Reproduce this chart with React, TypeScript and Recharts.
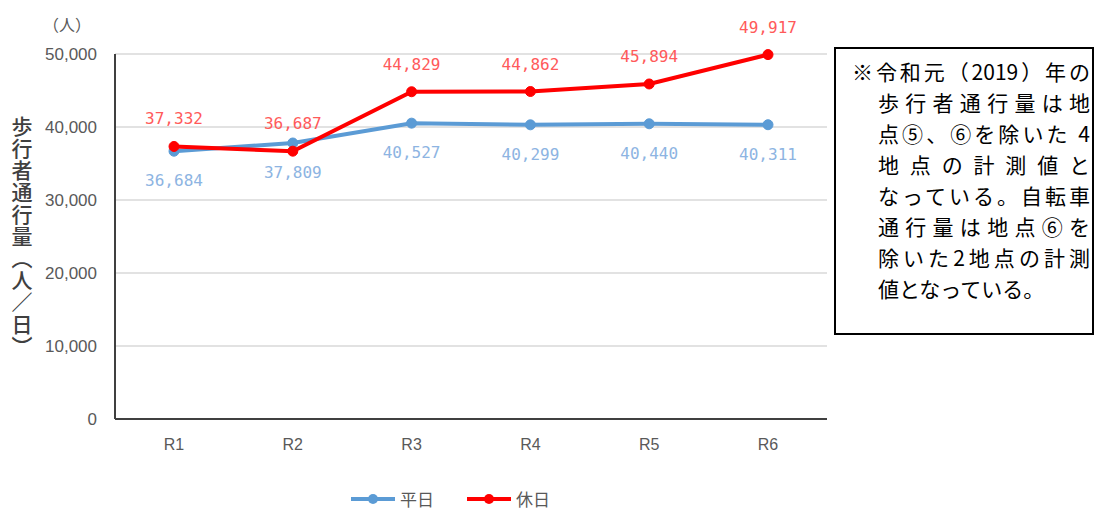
import { LineChart, Line, XAxis, YAxis, CartesianGrid, LabelList, Legend } from "recharts"

const years = ["R1", "R2", "R3", "R4", "R5", "R6"]
const weekday = [36684, 37809, 40527, 40299, 40440, 40311]
const holiday = [37332, 36687, 44829, 44862, 45894, 49917]
const yTicks = [0, 10000, 20000, 30000, 40000, 50000]

const data = years.map((label, i) => ({ label, weekday: weekday[i], holiday: holiday[i] }))

const BLUE = "#5b9bd5"
const RED = "#ff0000"
const LABEL_FONT = "'DejaVu Sans Mono', monospace"

const noteLines = [
  { text: "※令和元（2019）年の", indent: false, justify: true },
  { text: "歩行者通行量は地", indent: true, justify: true },
  { text: "点⑤、⑥を除いた 4", indent: true, justify: true },
  { text: "地点の計測値と", indent: true, justify: true },
  { text: "なっている。自転車", indent: true, justify: true },
  { text: "通行量は地点⑥を", indent: true, justify: true },
  { text: "除いた2地点の計測", indent: true, justify: true },
  { text: "値となっている。", indent: true, justify: false },
]

function makeLabel(color: string, dy: number) {
  return (props: any) => {
    const { x, y, value } = props
    return (
      <text x={x} y={y + dy} textAnchor="middle" fill={color} fontSize={16} fontFamily={LABEL_FONT}>
        {Number(value).toLocaleString("en-US")}
      </text>
    )
  }
}

function LegendContent() {
  const item = (color: string, name: string, gap: number) => (
    <div style={{ display: "flex", alignItems: "center", marginRight: gap }}>
      <svg width={46} height={14}>
        <line x1={1} y1={7} x2={45} y2={7} stroke={color} strokeWidth={4} />
        <circle cx={23} cy={7} r={5} fill={color} />
      </svg>
      <span style={{ marginLeft: 4, fontSize: 17, lineHeight: "20px", color: "#595959", fontFamily: "'Noto Sans CJK JP'" }}>{name}</span>
    </div>
  )
  return (
    <div style={{ display: "flex", justifyContent: "flex-start", alignItems: "center", height: 20, paddingLeft: 350 }}>
      {item(BLUE, "平日", 32)}
      {item(RED, "休日", 0)}
    </div>
  )
}

export default function App() {
  return (
    <div style={{ position: "absolute", left: 0, top: 0, width: 1095, height: 509, background: "#fff", fontFamily: "'Noto Sans CJK JP', sans-serif" }}>
      <LineChart
        width={1095}
        height={509}
        data={data}
        margin={{ top: 54, right: 268, bottom: 40, left: 0 }}
      >
        <CartesianGrid vertical={false} stroke="#d9d9d9" strokeWidth={1.5} />
        <XAxis
          dataKey="label"
          height={30}
          padding={{ left: 59, right: 59 }}
          tickLine={false}
          axisLine={{ stroke: "#404040", strokeWidth: 2 }}
          tickSize={0}
          tickMargin={20}
          tick={{ fill: "#595959", fontSize: 16, fontFamily: "'Liberation Sans', sans-serif" }}
        />
        <YAxis
          width={115}
          domain={[0, 50000]}
          ticks={yTicks}
          tickFormatter={(v: number) => v.toLocaleString("en-US")}
          tickLine={false}
          axisLine={{ stroke: "#404040", strokeWidth: 2 }}
          tickSize={0}
          tickMargin={18}
          tick={{ fill: "#595959", fontSize: 17, fontFamily: "'Liberation Sans', sans-serif" }}
        />
        <Legend
          verticalAlign="bottom"
          content={<LegendContent />}
          wrapperStyle={{ top: 489, bottom: "auto", left: 0, width: 1095, height: 20 }}
        />
        <Line
          dataKey="weekday"
          name="平日"
          stroke={BLUE}
          strokeWidth={4}
          dot={{ r: 5, fill: BLUE, stroke: BLUE, strokeWidth: 1 }}
          isAnimationActive={false}
        >
          <LabelList dataKey="weekday" content={makeLabel("#8db4e2", 35)} />
        </Line>
        <Line
          dataKey="holiday"
          name="休日"
          stroke={RED}
          strokeWidth={4}
          dot={{ r: 5, fill: RED, stroke: RED, strokeWidth: 1 }}
          isAnimationActive={false}
        >
          <LabelList dataKey="holiday" content={makeLabel("#ff5a5a", -22)} />
        </Line>
      </LineChart>

      <div style={{ position: "absolute", left: 43, top: 12, fontSize: 16, color: "#595959" }}>（人）</div>

      <div
        style={{
          position: "absolute",
          left: 11,
          top: 116,
          height: 232,
          writingMode: "vertical-rl",
          fontSize: 21,
          lineHeight: "22px",
          letterSpacing: 1,
          color: "#404040",
          fontWeight: 500,
        }}
      >
        歩行者通行量（人／日）
      </div>

      <div
        style={{
          position: "absolute",
          left: 834,
          top: 47,
          width: 256,
          height: 277,
          border: "2px solid #000",
          background: "#fff",
          paddingTop: 7,
          boxSizing: "content-box",
          fontFamily: "'Noto Sans CJK JP', serif",
          fontSize: 21,
          color: "#000",
        }}
      >
        {noteLines.map((l) => (
          <div
            key={l.text}
            style={{
              height: 31,
              lineHeight: "31px",
              marginLeft: l.indent ? 42 : 16,
              marginRight: 2,
              textAlign: "justify",
              textAlignLast: l.justify ? "justify" : "left",
              whiteSpace: "nowrap",
            }}
          >
            {l.text}
          </div>
        ))}
      </div>
    </div>
  )
}
